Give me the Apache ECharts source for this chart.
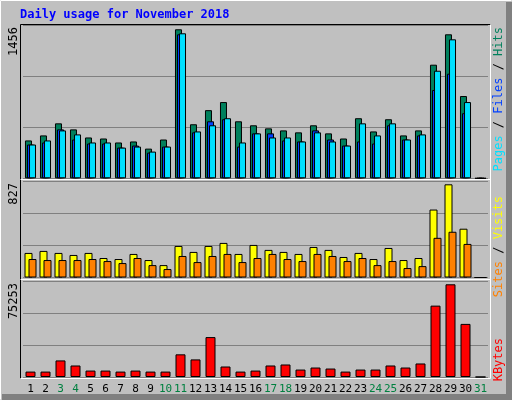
<!DOCTYPE html>
<html><head><meta charset="utf-8">
<script src="https://cdn.jsdelivr.net/npm/echarts@6/dist/echarts.min.js"></script>
<style>html,body{margin:0;padding:0;background:#c0c0c0}#c{width:512px;height:400px}</style>
</head><body><div id="c"></div>
<script>
const days = ['1','2','3','4','5','6','7','8','9','10','11','12','13','14','15','16','17','18','19','20','21','22','23','24','25','26','27','28','29','30','31'];
const weekend = ['3','4','10','11','17','18','24','25','31'];
const hits  = [370,419,537,478,399,389,350,360,290,379,1456,528,666,745,557,518,488,468,449,518,439,389,587,458,577,419,468,1110,1407,804,0];
const pages = [330,350,478,379,340,340,300,320,251,310,1407,449,557,577,310,439,439,370,360,468,379,320,360,340,518,379,419,863,1022,636,0];
const files = [330,370,468,429,350,350,300,310,261,310,1417,458,518,587,350,439,399,399,360,449,360,320,537,419,537,379,429,1051,1358,745,0];
const visits= [218,236,218,200,218,173,164,209,155,110,280,227,280,307,209,289,245,227,209,271,245,182,218,164,262,155,173,603,827,433,0];
const sites = [164,155,155,155,164,146,128,173,110,75,191,137,191,209,137,173,209,164,146,209,191,146,173,110,146,84,101,352,406,298,0];
const kbytes= [4394,4394,13456,9337,5218,5218,4394,5218,4394,4394,18399,14279,32403,8513,4394,5218,9337,10160,6041,7689,6865,4394,6041,6041,9337,7689,10984,57941,75253,43112,0];
const maxLabels = ['1456','827','75253'];

const ch = echarts.init(document.getElementById('c'));
const F = 'DejaVu Sans Mono, monospace';
const L = 23, W = 465;
const grids = [
  {left:L, width:W, top:25.3, height:153},
  {left:L, width:W, top:181.5, height:96},
  {left:L, width:W, top:281, height:96}
];
const maxes = [1495, 852, 77935];
const xAxes = grids.map((g,i)=>({
  gridIndex:i, type:'category', data:days,
  axisLine:{show:false}, axisTick:{show:false},
  axisLabel:{show:i===2, interval:0, margin:7, fontFamily:F, fontSize:11,
    formatter:v=> weekend.includes(v)?'{g|'+v+'}':'{k|'+v+'}',
    rich:{g:{color:'#008040',fontFamily:F,fontSize:11},k:{color:'#000',fontFamily:F,fontSize:11}}}
}));
const yAxes = grids.map((g,i)=>({
  gridIndex:i, type:'value', min:0, max:maxes[i], interval:maxes[i]/3,
  axisLabel:{show:false}, axisLine:{show:false}, axisTick:{show:false},
  splitLine:{show:true, lineStyle:{color:'#808080', width:1}}
}));
const bs = {borderColor:'#000', borderWidth:1};
const series = [
  {type:'bar', xAxisIndex:0, yAxisIndex:0, data:hits, barWidth:7, barGap:'-71%', itemStyle:{color:'#00805c',...bs}},
  {type:'bar', xAxisIndex:0, yAxisIndex:0, data:pages, barWidth:7, barGap:'-71%', itemStyle:{color:'#0040ff',...bs}},
  {type:'bar', xAxisIndex:0, yAxisIndex:0, data:files, barWidth:7, barGap:'-71%', itemStyle:{color:'#00e0ff',...bs}},
  {type:'bar', xAxisIndex:1, yAxisIndex:1, data:visits, barWidth:8, barGap:'-50%', itemStyle:{color:'#ffff00',...bs}},
  {type:'bar', xAxisIndex:1, yAxisIndex:1, data:sites, barWidth:8, barGap:'-50%', itemStyle:{color:'#ff8000',...bs}},
  {type:'bar', xAxisIndex:2, yAxisIndex:2, data:kbytes, barWidth:10, itemStyle:{color:'#ff0000',...bs}}
];
const line = (x1,y1,x2,y2,c)=>({type:'line', silent:true, z:100, shape:{x1,y1,x2,y2}, style:{stroke:c, lineWidth:1}});
const vt = (x,y,t,c)=>({type:'text', x, y, rotation:Math.PI/2, z:100,
  style:{text:t, fill:c, font:'12px '+F, align:'right', verticalAlign:'middle'}});
const rt = (x,y,parts)=>({type:'text', x, y, rotation:Math.PI/2, z:100,
  style:{text:parts.map(p=>'{'+p[1]+'|'+p[0]+'}').join(''), font:'12px '+F, align:'right', verticalAlign:'middle',
    rich:{a:{fill:'#00805c',font:'12px '+F},b:{fill:'#0040ff',font:'12px '+F},c:{fill:'#00e0ff',font:'12px '+F},
          d:{fill:'#ffff00',font:'12px '+F},e:{fill:'#ff8000',font:'12px '+F},f:{fill:'#ff0000',font:'12px '+F},k:{fill:'#000',font:'12px '+F}}}});
const graphic = [
  {type:'rect', z:-10, shape:{x:0,y:0,width:512,height:400}, style:{fill:'#c0c0c0'}},
  line(0.5,0.5,511.5,0.5,'#ffffff'), line(0.5,0.5,0.5,399.5,'#ffffff'),
  {type:'rect', z:100, shape:{x:506,y:2,width:6,height:398}, style:{fill:'#808080'}},
  {type:'rect', z:100, shape:{x:2,y:394,width:510,height:6}, style:{fill:'#808080'}},
  {type:'text', x:20, y:9, z:100, style:{text:'Daily usage for November 2018', fill:'#0000ff', font:'bold 12px '+F}},
  line(20.5,24.5,490.5,24.5,'#000'), line(20.5,24.5,20.5,378.5,'#000'),
  line(490.5,24.5,490.5,378.5,'#ffffff'), line(20.5,378.5,490.5,378.5,'#ffffff'),
  line(20.5,179.5,490.5,179.5,'#ffffff'), line(20.5,279.5,490.5,279.5,'#ffffff'),
  vt(14,27,maxLabels[0],'#000'), vt(14,183,maxLabels[1],'#000'), vt(14,283,maxLabels[2],'#000'),
  rt(499,27,[['Pages','c'],[' / ','k'],['Files','b'],[' / ','k'],['Hits','a']]),
  rt(499,196,[['Sites','e'],[' / ','k'],['Visits','d']]),
  rt(499,338,[['KBytes','f']])
];
ch.setOption({animation:false, grid:grids, xAxis:xAxes, yAxis:yAxes, series, graphic});
</script></body></html>
